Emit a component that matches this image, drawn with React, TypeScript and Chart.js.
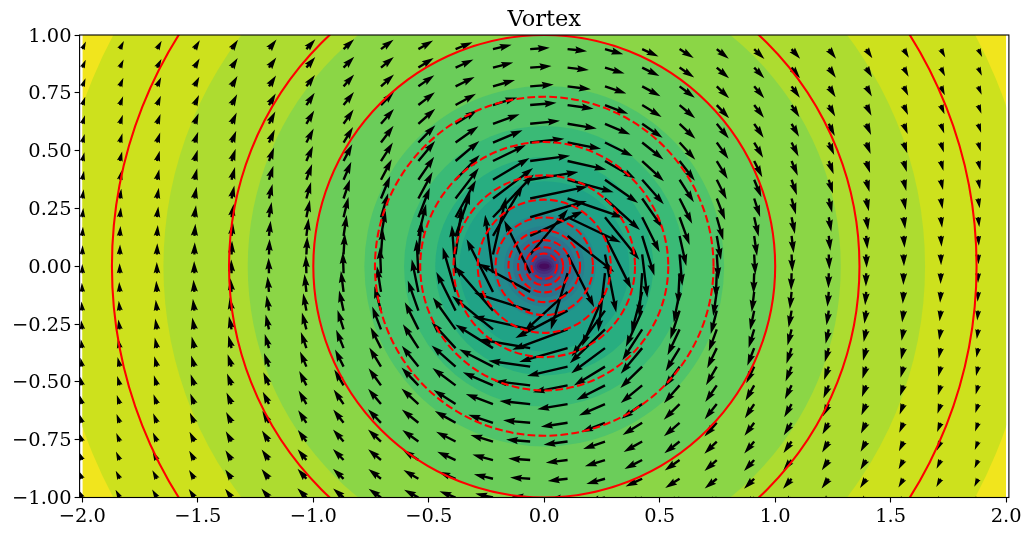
import React, { useEffect, useRef } from "react";
import { Chart, registerables } from "chart.js";

Chart.register(...registerables);

const xTickValues = [-2, -1.5, -1, -0.5, 0, 0.5, 1, 1.5, 2];
const yTickValues = [-1, -0.75, -0.5, -0.25, 0, 0.25, 0.5, 0.75, 1];

// Filled bands, outermost first. bandColors[0] is the outer background; each next colour sits inside the matching radius.
const bandRadiiX = [2.117, 1.649, 1.284, 1.0, 0.779, 0.607, 0.472, 0.368, 0.287, 0.223, 0.174, 0.135, 0.105, 0.082, 0.066, 0.052, 0.042, 0.032, 0.022];
const bandRadiiY = [2.117, 1.649, 1.284, 1.0, 0.779, 0.607, 0.472, 0.368, 0.287, 0.223, 0.174, 0.135, 0.105, 0.082, 0.062, 0.046, 0.033, 0.022, 0.012];
const bandColors = [
  "#f1e51d", "#cde11d", "#addc30", "#8bd646", "#6bcd5a",
  "#50c46a", "#3aba76", "#28ae80", "#20a386", "#1f978b",
  "#238a8d", "#277f8e", "#2c738e", "#31688e", "#38598c",
  "#3e4a89", "#433d84", "#472d7b", "#481c6e", "#460a5d",
];

// Red contour circles
const solidContourRadii = [1.872, 1.365, 1.0];
const dashedContourRadii = [0.733, 0.537, 0.393, 0.288, 0.211, 0.155, 0.113, 0.082, 0.055];

// Arrow tails
const arrowX = [-2, -1.838, -1.677, -1.515, -1.354, -1.192, -1.03, -0.869, -0.707, -0.545, -0.384, -0.222, -0.061, 0.101, 0.263, 0.424, 0.586, 0.747, 0.909, 1.071, 1.232, 1.394, 1.556, 1.717, 1.879];
const arrowY = [-1, -0.919, -0.838, -0.758, -0.677, -0.596, -0.515, -0.434, -0.354, -0.273, -0.192, -0.111, -0.03, 0.051, 0.131, 0.212, 0.293, 0.374, 0.455, 0.535, 0.616, 0.697, 0.778, 0.859, 0.939];

// Arrow speed; one row per arrowY, one column per arrowX
const arrowSpeed = [
  [.45,.48,.51,.55,.59,.64,.70,.75,.82,.88,.93,.98,1.00,1.00,.97,.92,.86,.80,.74,.68,.63,.58,.54,.50,.47],
  [.45,.49,.52,.56,.61,.66,.72,.79,.86,.94,1.00,1.06,1.09,1.08,1.05,.99,.92,.84,.77,.71,.65,.60,.55,.51,.48],
  [.46,.50,.53,.58,.63,.69,.75,.83,.91,1.00,1.09,1.15,1.19,1.19,1.14,1.07,.98,.89,.81,.74,.67,.61,.57,.52,.49],
  [.47,.50,.54,.59,.64,.71,.78,.87,.96,1.07,1.18,1.27,1.31,1.31,1.25,1.15,1.04,.94,.84,.76,.69,.63,.58,.53,.49],
  [.47,.51,.55,.60,.66,.73,.81,.91,1.02,1.15,1.29,1.40,1.47,1.46,1.38,1.25,1.12,.99,.88,.79,.71,.65,.59,.54,.50],
  [.48,.52,.56,.61,.68,.75,.84,.95,1.08,1.24,1.41,1.57,1.67,1.66,1.54,1.37,1.20,1.05,.92,.82,.73,.66,.60,.55,.51],
  [.48,.52,.57,.63,.69,.77,.87,.99,1.14,1.33,1.56,1.78,1.93,1.91,1.73,1.50,1.28,1.10,.96,.84,.75,.67,.61,.56,.51],
  [.49,.53,.58,.63,.70,.79,.89,1.03,1.21,1.44,1.73,2.05,2.28,2.25,1.97,1.65,1.37,1.16,.99,.87,.77,.69,.62,.56,.52],
  [.49,.53,.58,.64,.71,.80,.92,1.07,1.26,1.54,1.92,2.40,2.78,2.72,2.27,1.81,1.46,1.21,1.03,.89,.78,.70,.63,.57,.52],
  [.50,.54,.59,.65,.72,.82,.94,1.10,1.32,1.64,2.12,2.85,3.19,3.19,2.64,1.98,1.55,1.26,1.05,.90,.79,.70,.63,.58,.53],
  [.50,.54,.59,.65,.73,.83,.95,1.12,1.36,1.73,2.33,3.19,3.19,3.19,3.07,2.15,1.62,1.30,1.08,.92,.80,.71,.64,.58,.53],
  [.50,.54,.60,.66,.74,.84,.97,1.14,1.40,1.80,2.51,3.19,3.19,3.19,3.19,2.28,1.68,1.32,1.09,.93,.81,.72,.64,.58,.53],
  [.50,.54,.60,.66,.74,.84,.97,1.15,1.41,1.83,2.60,3.19,3.19,3.19,3.19,2.35,1.71,1.34,1.10,.93,.81,.72,.64,.58,.53],
  [.50,.54,.60,.66,.74,.84,.97,1.15,1.41,1.83,2.58,3.19,3.19,3.19,3.19,2.34,1.70,1.34,1.10,.93,.81,.72,.64,.58,.53],
  [.50,.54,.59,.66,.74,.83,.96,1.14,1.39,1.78,2.47,3.19,3.19,3.19,3.19,2.25,1.67,1.32,1.09,.93,.81,.71,.64,.58,.53],
  [.50,.54,.59,.65,.73,.83,.95,1.12,1.35,1.71,2.28,3.19,3.19,3.19,2.96,2.11,1.60,1.29,1.07,.92,.80,.71,.64,.58,.53],
  [.50,.54,.59,.65,.72,.81,.93,1.09,1.31,1.62,2.07,2.72,3.19,3.19,2.54,1.94,1.53,1.25,1.05,.90,.79,.70,.63,.57,.53],
  [.49,.53,.58,.64,.71,.80,.91,1.06,1.25,1.51,1.87,2.30,2.64,2.58,2.19,1.77,1.44,1.20,1.02,.88,.78,.69,.62,.57,.52],
  [.49,.53,.58,.63,.70,.78,.89,1.02,1.19,1.41,1.68,1.98,2.18,2.15,1.90,1.61,1.35,1.14,.98,.86,.76,.68,.62,.56,.52],
  [.48,.52,.57,.62,.69,.77,.86,.98,1.13,1.31,1.52,1.73,1.86,1.84,1.68,1.47,1.26,1.09,.95,.84,.74,.67,.61,.56,.51],
  [.48,.52,.56,.61,.67,.75,.83,.94,1.07,1.22,1.38,1.53,1.62,1.60,1.49,1.34,1.18,1.03,.91,.81,.73,.66,.60,.55,.51],
  [.47,.51,.55,.60,.66,.72,.80,.90,1.01,1.13,1.26,1.37,1.43,1.42,1.34,1.23,1.10,.98,.87,.78,.71,.64,.59,.54,.50],
  [.47,.50,.54,.59,.64,.70,.77,.86,.95,1.05,1.15,1.24,1.28,1.27,1.22,1.13,1.03,.93,.84,.76,.69,.63,.57,.53,.49],
  [.46,.49,.53,.57,.62,.68,.75,.82,.90,.98,1.06,1.13,1.16,1.16,1.11,1.04,.96,.88,.80,.73,.67,.61,.56,.52,.48],
  [.45,.49,.52,.56,.61,.66,.72,.78,.85,.92,.99,1.04,1.06,1.06,1.03,.97,.90,.83,.77,.70,.65,.60,.55,.51,.48],
];

const PX_PER_SPEED = 18.5;
const SHAFT = 2.4;
const FIELD = { xMin: -2, xMax: 2, yMin: -1, yMax: 1 };
const fmt = (v: number, d: number) => v.toFixed(d).replace("-", "\u2212");

function arrowPath(ctx: CanvasRenderingContext2D, px: number, py: number, dx: number, dy: number, len: number) {
  const minsh = 5 * SHAFT;
  const xs = len >= minsh
    ? [0, len - 4.5 * SHAFT, len - 5 * SHAFT, len]
    : [0, 0.5 * SHAFT * (len / minsh), 0, len];
  const k = len >= minsh ? 1 : len / minsh;
  const ys = [0.5 * SHAFT * k, 0.5 * SHAFT * k, 1.5 * SHAFT * k, 0];
  const order = [[0, 1], [1, 1], [2, 1], [3, 1], [2, -1], [1, -1], [0, -1]];
  ctx.beginPath();
  order.forEach(([i, s], n) => {
    const a = xs[i];
    const b = ys[i] * s;
    const X = px + a * dx - b * dy;
    const Y = py + a * dy + b * dx;
    if (n === 0) ctx.moveTo(X, Y);
    else ctx.lineTo(X, Y);
  });
  ctx.closePath();
  ctx.fill();
}

const vortexLayers = {
  id: "vortexLayers",
  beforeDatasetsDraw(chart: any) {
    const { ctx, scales, chartArea } = chart;
    const sx = scales.x;
    const sy = scales.y;
    const cx = sx.getPixelForValue(0);
    const cy = sy.getPixelForValue(0);
    const ppuX = sx.getPixelForValue(1) - cx;
    const ppuY = cy - sy.getPixelForValue(1);
    const left = sx.getPixelForValue(FIELD.xMin);
    const right = sx.getPixelForValue(FIELD.xMax);
    const top = sy.getPixelForValue(FIELD.yMax);
    const bottom = sy.getPixelForValue(FIELD.yMin);

    ctx.save();
    ctx.beginPath();
    ctx.rect(left, top, right - left, bottom - top);
    ctx.clip();
    ctx.fillStyle = bandColors[0];
    ctx.fillRect(left, top, right - left, bottom - top);
    bandRadiiX.forEach((rx, i) => {
      ctx.fillStyle = bandColors[i + 1];
      ctx.beginPath();
      ctx.ellipse(cx, cy, rx * ppuX, bandRadiiY[i] * ppuY, 0, 0, Math.PI * 2);
      ctx.fill();
    });
    ctx.restore();

    ctx.save();
    ctx.beginPath();
    ctx.rect(chartArea.left, chartArea.top, chartArea.width, chartArea.height);
    ctx.clip();
    ctx.fillStyle = "#000000";
    arrowY.forEach((y, j) => {
      arrowX.forEach((x, i) => {
        const r = Math.hypot(x, y);
        const len = arrowSpeed[j][i] * PX_PER_SPEED;
        arrowPath(ctx, sx.getPixelForValue(x), sy.getPixelForValue(y), y / r, x / r, len);
      });
    });
    ctx.restore();

    ctx.save();
    ctx.beginPath();
    ctx.rect(left, top, right - left, bottom - top);
    ctx.clip();
    ctx.strokeStyle = "#ff0000";
    ctx.lineWidth = 2.08;
    const ring = (r: number) => {
      ctx.beginPath();
      ctx.ellipse(cx, cy, r * ppuX, r * ppuY, 0, 0, Math.PI * 2);
      ctx.stroke();
    };
    solidContourRadii.forEach(ring);
    ctx.setLineDash([7.7, 3.3]);
    dashedContourRadii.forEach(ring);
    ctx.restore();

    ctx.save();
    ctx.strokeStyle = "#000000";
    ctx.lineWidth = 1.11;
    ctx.strokeRect(chartArea.left, chartArea.top, chartArea.width, chartArea.height);
    ctx.restore();
  },
};

export default function App() {
  const ref = useRef<HTMLCanvasElement>(null);
  useEffect(() => {
    document.body.style.margin = "0";
    const tickFont = { family: "'DejaVu Serif', serif", size: 19.44 };
    const chart = new Chart(ref.current!, {
      type: "scatter",
      data: {
        datasets: [
          {
            label: "Arrow tails",
            data: arrowY.flatMap((y) => arrowX.map((x) => ({ x, y }))),
            pointRadius: 0,
            showLine: false,
          },
        ],
      },
      options: {
        responsive: false,
        animation: false,
        events: [],
        layout: { padding: { left: 0, right: 22.1, top: 0, bottom: 0 } },
        plugins: {
          legend: { display: false },
          tooltip: { enabled: false },
          title: {
            display: true,
            text: "Vortex",
            fullSize: false,
            color: "#000000",
            font: { family: "'DejaVu Serif', serif", size: 22.5, weight: "normal" },
            padding: { top: 7, bottom: 1 },
          },
        },
        scales: {
          x: {
            type: "linear",
            min: -2.012,
            max: 2.012,
            grid: { display: true, drawOnChartArea: false, drawTicks: true, tickLength: 5, tickColor: "#000000", tickWidth: 1.11 },
            border: { display: false },
            afterBuildTicks: (s: any) => { s.ticks = xTickValues.map((value) => ({ value })); },
            afterFit: (s: any) => { s.height = 37.5; },
            ticks: {
              color: "#000000",
              font: tickFont,
              padding: 3,
              maxRotation: 0,
              autoSkip: false,
              callback: (v: any) => fmt(Number(v), 1),
            },
          },
          y: {
            type: "linear",
            min: -1,
            max: 1,
            grid: { display: true, drawOnChartArea: false, drawTicks: true, tickLength: 5, tickColor: "#000000", tickWidth: 1.11 },
            border: { display: false },
            afterBuildTicks: (s: any) => { s.ticks = yTickValues.map((value) => ({ value })); },
            afterFit: (s: any) => { s.width = 79.6; },
            ticks: {
              color: "#000000",
              font: tickFont,
              padding: 3,
              labelOffset: 1.5,
              autoSkip: false,
              callback: (v: any) => fmt(Number(v), 2),
            },
          },
        },
      },
      plugins: [vortexLayers],
    } as any);
    return () => chart.destroy();
  }, []);
  return <canvas ref={ref} width={1031} height={535} style={{ display: "block" }} />;
}
